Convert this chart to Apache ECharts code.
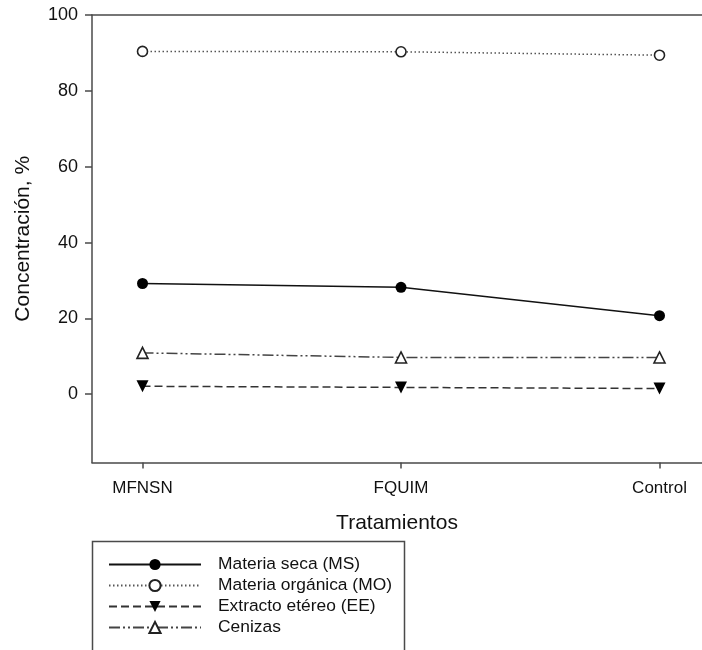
<!DOCTYPE html>
<html>
<head>
<meta charset="utf-8">
<script src="https://cdn.jsdelivr.net/npm/echarts@6/dist/echarts.min.js"></script>
<style>
html,body{margin:0;padding:0;background:#fff;}
#chart{width:702px;height:650px;}
</style>
</head>
<body>
<div id="chart"></div>
<script>
var categories = ['MFNSN', 'FQUIM', 'Control'];
var materiaSeca = [29.2, 28.2, 20.7];
var materiaOrganica = [90.4, 90.3, 89.4];
var extractoEtereo = [2.1, 1.8, 1.5];
var cenizas = [10.9, 9.7, 9.7];
var yTicks = [0, 20, 40, 60, 80, 100];
var seriesNames = ['Materia seca (MS)', 'Materia orgánica (MO)', 'Extracto etéreo (EE)', 'Cenizas'];

function pts(arr) { return arr.map(function (v, i) { return [i, v]; }); }

var chart = echarts.init(document.getElementById('chart'), null, {renderer: 'canvas'});
var FONT = '"Liberation Sans", Arial, sans-serif';
var axisCol = '#4a4a4a';
var XMIN = -0.1954, XMAX = 2.1644;

chart.setOption({
  animation: false,
  backgroundColor: '#fff',
  grid: {left: 92, top: 15, right: 0, bottom: 187.5, show: false},
  xAxis: [{
    type: 'value', min: XMIN, max: XMAX, position: 'bottom',
    splitLine: {show: false},
    axisLine: {onZero: false, lineStyle: {color: axisCol, width: 1.5}},
    axisTick: {length: 6, lineStyle: {color: axisCol, width: 1.5}, customValues: [0, 1, 2]},
    axisLabel: {customValues: [0, 1, 2], formatter: function (v) { return categories[Math.round(v)]; },
      margin: 17, fontSize: 17, color: '#111', fontFamily: FONT},
    name: 'Tratamientos', nameLocation: 'middle', nameGap: 50,
    nameTextStyle: {fontSize: 21, color: '#111', fontFamily: FONT}
  }, {
    type: 'value', min: XMIN, max: XMAX, position: 'top',
    splitLine: {show: false},
    axisLine: {show: true, onZero: false, lineStyle: {color: axisCol, width: 1.5}},
    axisTick: {show: false},
    axisLabel: {show: false}
  }],
  yAxis: {
    type: 'value', min: -18, max: 100,
    splitLine: {show: false},
    axisLine: {onZero: false, lineStyle: {color: axisCol, width: 1.5}},
    axisTick: {length: 7, lineStyle: {color: axisCol, width: 1.5}, customValues: yTicks},
    axisLabel: {customValues: yTicks, margin: 14, fontSize: 18, color: '#111', fontFamily: FONT},
    name: 'Concentración, %', nameLocation: 'middle', nameGap: 58,
    nameTextStyle: {fontSize: 21, color: '#111', fontFamily: FONT}
  },
  legend: {
    orient: 'vertical', left: 103, top: 549,
    itemWidth: 92, itemHeight: 14, itemGap: 0,
    textStyle: {fontSize: 17.4, color: '#111', fontFamily: FONT, lineHeight: 21, padding: [0, 0, 0, 12]},
    data: seriesNames
  },
  graphic: [{
    type: 'rect', silent: true,
    shape: {x: 92.5, y: 541.5, width: 312, height: 200},
    style: {fill: 'none', stroke: axisCol, lineWidth: 1.5}
  }],
  series: [
    {name: seriesNames[0], type: 'line', data: pts(materiaSeca),
      symbol: 'circle', symbolSize: 11,
      lineStyle: {color: '#111', width: 1.5, type: 'solid'},
      itemStyle: {color: '#000', borderColor: '#000', borderWidth: 0}},
    {name: seriesNames[1], type: 'line', data: pts(materiaOrganica),
      symbol: 'circle', symbolSize: 10,
      lineStyle: {color: '#555', width: 1.5, type: [1.5, 2.5]},
      itemStyle: {color: '#fff', borderColor: '#222', borderWidth: 1.6}},
    {name: seriesNames[2], type: 'line', data: pts(extractoEtereo),
      symbol: 'triangle', symbolRotate: 180, symbolSize: 12,
      lineStyle: {color: '#333', width: 1.5, type: [8, 4]},
      itemStyle: {color: '#000', borderWidth: 0}},
    {name: seriesNames[3], type: 'line', data: pts(cenizas),
      symbol: 'triangle', symbolSize: 11,
      lineStyle: {color: '#444', width: 1.5, type: [11, 3, 2, 3, 2, 3]},
      itemStyle: {color: '#fff', borderColor: '#222', borderWidth: 1.6}}
  ]
});
</script>
</body>
</html>
